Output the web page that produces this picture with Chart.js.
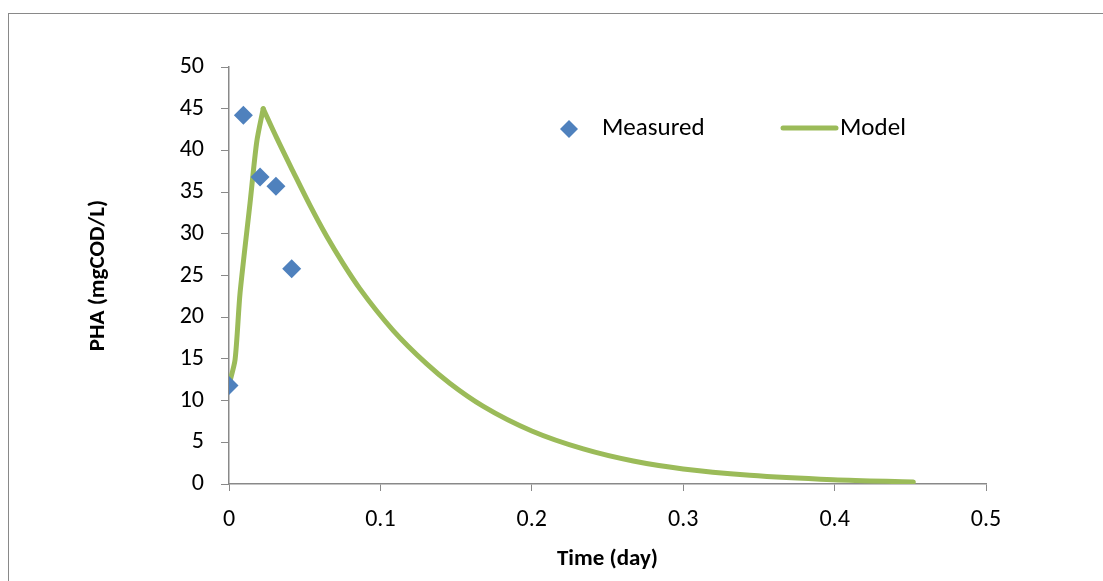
<!DOCTYPE html>
<html>
<head>
<meta charset="utf-8">
<script src="https://cdn.jsdelivr.net/npm/chart.js@4.4.1/dist/chart.umd.min.js"></script>
<style>
  html, body { margin: 0; padding: 0; background: #fff; }
  #wrap { position: relative; width: 1103px; height: 581px; }
</style>
</head>
<body>
<div id="wrap"><canvas id="myChart" width="1103" height="581"></canvas></div>
<script>
// measured PHA points
const measuredTime = [0, 0.0095, 0.0205, 0.031, 0.0414];
const measuredPHA  = [11.8, 44.2, 36.8, 35.7, 25.8];

// model curve
const modelTime = [0, 0.004, 0.0073, 0.0139, 0.0183, 0.0226, 0.0315, 0.0425, 0.0535, 0.0645, 0.0755, 0.0865, 0.1085, 0.1306, 0.146, 0.168, 0.2, 0.234, 0.267, 0.3, 0.344, 0.399, 0.452];
const modelPHA  = [11.9, 14.9, 22.9, 33.7, 41.0, 45.0, 41.5, 37.4, 33.4, 29.7, 26.4, 23.4, 18.4, 14.4, 12.05, 9.3, 6.35, 4.2, 2.75, 1.8, 1.05, 0.52, 0.25];
const peakIndex = 5;

const xTicks = [0, 0.1, 0.2, 0.3, 0.4, 0.5];
const yTicks = [0, 5, 10, 15, 20, 25, 30, 35, 40, 45, 50];

const seriesNames = ['Measured', 'Model'];
const axisTitles = ['Time (day)', 'PHA (mgCOD/L)'];

const blue = '#4F81BD';
const green = '#9BBB59';
const axisGrey = '#898989';
const fontFam = 'Carlito, Calibri, Lato, sans-serif';

const measuredData = measuredTime.map((t, i) => ({x: t, y: measuredPHA[i]}));
const modelData = modelTime.map((t, i) => ({x: t, y: modelPHA[i]}));
// rise and decay drawn as two pieces so the peak stays sharp
const modelRise = modelData.slice(0, peakIndex + 1);
const modelDecay = modelData.slice(peakIndex);

// frame + legend drawn on the canvas
const extras = {
  id: 'extras',
  beforeDraw(chart) {
    const c = chart.ctx;
    c.save();
    c.strokeStyle = axisGrey;
    c.lineWidth = 1;
    c.strokeRect(8.5, 13.5, 2000, 2000);
    c.restore();
  },
  afterDraw(chart) {
    const c = chart.ctx;
    c.save();
    // diamond
    c.fillStyle = blue;
    c.beginPath();
    c.moveTo(569, 120); c.lineTo(578, 129); c.lineTo(569, 138); c.lineTo(560, 129);
    c.closePath();
    c.fill();
    c.font = '25px ' + fontFam;
    c.fillStyle = '#000';
    c.textBaseline = 'middle';
    c.fillText(seriesNames[0], 602, 129);
    c.strokeStyle = green;
    c.lineWidth = 5;
    c.lineCap = 'round';
    c.beginPath();
    c.moveTo(783, 128); c.lineTo(836, 128);
    c.stroke();
    c.fillText(seriesNames[1], 840, 129);
    c.restore();
  }
};

const lineStyle = {
  showLine: true,
  borderColor: green,
  borderWidth: 5,
  pointRadius: 0,
  borderCapStyle: 'round',
  borderJoinStyle: 'round'
};

const ctx = document.getElementById('myChart');
new Chart(ctx, {
  type: 'scatter',
  data: {
    datasets: [
      {
        label: seriesNames[0],
        data: measuredData,
        pointStyle: 'rectRot',
        pointRadius: 9.5,
        pointHoverRadius: 9.5,
        backgroundColor: blue,
        borderColor: blue,
        borderWidth: 0,
        showLine: false,
        order: 0
      },
      Object.assign({ label: seriesNames[1], data: modelRise, tension: 0.25, order: 1 }, lineStyle),
      Object.assign({ label: seriesNames[1], data: modelDecay, cubicInterpolationMode: 'monotone', order: 1 }, lineStyle)
    ]
  },
  options: {
    responsive: false,
    animation: false,
    layout: { padding: { left: 70, top: 67, right: 117, bottom: 8 } },
    plugins: {
      legend: { display: false },
      tooltip: { enabled: false }
    },
    scales: {
      x: {
        type: 'linear',
        min: 0, max: 0.5,
        afterBuildTicks(s) { s.ticks = xTicks.map(v => ({value: v})); },
        afterFit(s) { s.height = 89; },
        grid: { drawOnChartArea: false, drawTicks: true, tickLength: 7, color: axisGrey },
        border: { color: axisGrey, width: 1.5 },
        ticks: { color: '#000', font: { family: fontFam, size: 24 }, padding: 15, maxRotation: 0 },
        title: { display: true, text: axisTitles[0], color: '#000', font: { family: fontFam, size: 23, weight: 'bold' }, padding: { top: 4, bottom: 0 } }
      },
      y: {
        type: 'linear',
        min: 0, max: 50,
        afterBuildTicks(s) { s.ticks = yTicks.map(v => ({value: v})); },
        afterFit(s) { s.width = 159; },
        grid: { drawOnChartArea: false, drawTicks: true, tickLength: 8, color: axisGrey },
        border: { color: axisGrey, width: 1.5 },
        ticks: { color: '#000', font: { family: fontFam, size: 24 }, padding: 17 },
        title: { display: true, text: axisTitles[1], color: '#000', font: { family: fontFam, size: 23, weight: 'bold' }, padding: { top: 14, bottom: 4 } }
      }
    }
  },
  plugins: [extras]
});
</script>
</body>
</html>
